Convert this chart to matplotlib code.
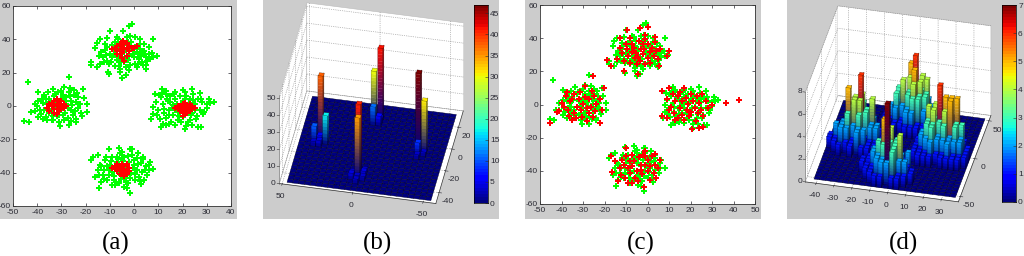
import numpy as np
import matplotlib
matplotlib.use("Agg")
import matplotlib.pyplot as plt
from matplotlib.patches import Rectangle
from mpl_toolkits.mplot3d import proj3d
from mpl_toolkits.mplot3d.art3d import Poly3DCollection

plt.rcParams['font.family'] = ['Liberation Sans', 'DejaVu Sans']
plt.rcParams['axes.unicode_minus'] = False
W, H = 1024, 256

# ---------- data ----------
green_top = [(-0.7,49),(-2,48),(-4.5,45),(-10,45),(-1.5,42),(-11,41),(-14,40),(-6.5,40.5),(8,40),(2.5,40),(-15.5,38),(-16,35),(7.5,32),(9.5,30),(8,29.5),(-18,26.5),(-18,24.5),(-15.5,23.5),(-14,25.5),(-10.7,20.5),(-10.5,19),(-5,17),(-3.5,18.5),(-6,22),(5,22.5),(5,24.5),(1.5,25.5),
 (-12,33.4),(-11.2,35.3),(-10,31.2),(-9.3,36.6),(-9,29.1),(-8.2,33.3),(-8,38.4),(-7,27.4),(-7.4,31.2),(-6,35.3),(-6.3,24.2),(-5,29.4),(-5.4,38.2),(-4,26.3),(-4.3,32.2),(-3,36.4),(-3.2,23.3),(-2,30.2),(-2.4,27.4),(-1,34.2),(-1.3,38.3),(0,29.3),(0.3,25.2),(1,32.4),(1.4,36.2),(2,28.3),(2.3,34.4),(3,30.2),(3.4,26.4),(4,33.2),(4.2,37.3),(5,29.4),(6,31.2),(-13,29.4),(-11,27.2),(-10.3,25.3),(-12,37.2),(-7.2,41.3),(-3,41.4),(0.4,41.2),(6,35.2),(-8,24.3),(-2.2,21.4),(1,23.3),(-6,20.2),
 (-11.5,30.5),(-9.5,26.5),(-8.5,31.5),(-7.5,35.5),(-6.5,29.5),(-5.5,26.5),(-4.5,33.5),(-3.5,28.5),(-2.5,38.5),(-1.5,24.5),(-0.5,31.5),(0.5,35.5),(1.5,29.5),(2.5,37.5),(3.5,24.5),(4.5,31.5),(5.5,27),(6.5,28.5),(-13.5,32.5),(-12.5,26.5),(-14.5,30),(2.5,32)]
green_left = [(-44,14.5),(-27,17.5),(-45.5,-9),(-43.5,-9.5),(-21,10),(-39.5,8.5),(-33.5,10.5),(-29,11.5),(-26.5,11),(-25,9.5),(-20.5,5),(-19.5,1),(-19.5,-3.5),(-24,-8),(-24,-9.5),(-27,-11.5),(-30.5,-12),(-37.5,-8),(-39.5,-6.5),(-42.5,-3.5),(-41,1),
 (-38,4.3),(-37,-2.2),(-37.3,6.4),(-36,1.2),(-36.2,-6.3),(-35,4.4),(-35.4,8.2),(-34,-3.3),(-33,6.2),(-33.3,-8.4),(-32,2.4),(-31,-5.2),(-31.4,8.3),(-30,4.2),(-30.3,-2.4),(-29,-8.3),(-29.2,6.4),(-28,1.3),(-28.4,-4.2),(-27,8.4),(-27.3,-7.2),(-26,3.3),(-26.2,-2.3),(-25,6.4),(-25.4,-5.3),(-24,2.2),(-23,-1.4),(-23.2,5.3),(-22,-4.2),(-39,-2.3),(-40,0.2),(-41,-3.2),(-34,-8.3),(-32,-6.2),(-28,5.3),(-35,-4.4),(-30,9.2),(-36,-8.2),(-33,-1.3),
 (-38.5,-4.5),(-37.5,2),(-36.5,4.5),(-35.5,-1.5),(-34.5,2.5),(-33.5,-6),(-32.5,7.5),(-31.5,-1),(-30.5,1.5),(-29.5,-5.5),(-28.5,3),(-27.5,-1),(-26.5,6),(-25.5,0.5),(-24.5,-3),(-23.5,8),(-22.5,1),(-21.5,-6),(-39.5,3),(-31,-9.5),(-26,-9)]
green_right = [(33,2.5),(31,4.5),(30,1.5),(27,8),(24,10.5),(20,9.5),(17,8.5),(11.7,10.5),(13,9),(8.5,7),(9.2,2.5),(8,-0.4),(7,-8),(8,-4.5),(12,-11),(11,-12.5),(14.5,-10.5),(26.5,-12.5),(27.8,-12.5),(23.7,-11.5),(21,-14),(21.3,-12),
 (11,5.3),(12,1.2),(12.4,-4.3),(13,7.4),(13.2,-7.2),(14,3.3),(14.3,-2.4),(15,6.2),(15.4,-9.3),(16,0.4),(16.2,-5.2),(17,4.3),(18,-3.4),(18.3,-8.2),(19,6.3),(19.4,1.2),(20,-6.4),(20.2,3.3),(21,8.2),(22,-1.3),(22.3,-9.4),(23,4.2),(24,-4.3),(24.4,7.2),(25,1.4),(26,-6.2),(26.3,4.3),(27,-2.4),(28,2.2),(29,-3.3),(10,-2.2),(10.3,6.4),(23,-8.2),(17,-11.3),(13,-11.2),(15,2.3),(17,-2.2),(19,-4.3),(21,4.4),(25,-2.2),
 (10.5,-7.5),(11.5,8),(12.5,-1.5),(13.5,4.5),(14.5,-5.5),(15.5,-1),(16.5,7.5),(17.5,1.5),(18.5,-6),(19.5,-9.5),(20.5,-2),(21.5,6),(22.5,2),(23.5,-5.5),(24.5,3.5),(25.5,-8),(27.5,4.5),(28.5,-5),(30,-1),(9.5,-5.5),(31.5,2)]
green_bottom = [(-18,-32.5),(-17,-30.5),(-15,-29.5),(-10.3,-25.5),(-6.2,-25),(-1.8,-26),(-1,-26),(1.6,-28),(3.5,-30.5),(6.5,-33.5),(8,-38),(6,-38.5),(2.7,-47),(-1.7,-52),(-14.5,-49),(-8,-47.5),(-4.2,-48.5),(-16,-42.5),(-13.5,-45.5),(-15,-38.5),
 (-14,-35.3),(-13,-41.2),(-12,-32.4),(-12.3,-38.2),(-11,-44.3),(-10,-35.4),(-10.4,-41.2),(-9,-30.3),(-8,-37.2),(-8.3,-44.4),(-7,-33.3),(-6,-28.2),(-6.4,-40.3),(-6.2,-46.4),(-5,-35.2),(-4,-30.3),(-4.3,-43.4),(-3,-37.2),(-2,-33.3),(-2.4,-46.2),(-1,-29.4),(-1.3,-40.2),(0,-35.3),(0.2,-44.2),(1,-31.4),(1.3,-38.2),(2,-42.3),(3,-34.2),(3.4,-39.3),(4,-44.4),(5,-36.2),(5.3,-41.3),(-9,-47.2),(-3,-49.3),(-7,-30.4),(-5,-31.2),(-3,-41.3),(0,-32.2),(-9,-39.4),(-11,-36.2),
 (-14.5,-41.5),(-13.5,-36),(-12.5,-44),(-11.5,-30.5),(-10.5,-38.5),(-9.5,-33),(-8.5,-42),(-7.5,-45.5),(-6.5,-31.5),(-5.5,-43.5),(-4.5,-33),(-3.5,-45.5),(-2.5,-30),(-1.5,-43),(-0.5,-37),(0.5,-41),(1.5,-34.5),(2.5,-45),(3.5,-32),(4.5,-38.5),(6,-35.5),(-5,-27.5)]

red_a = [(-9,34),(-8,35),(-7,33),(-7,36),(-6,34),(-6,31),(-6,37),(-5,35),(-5,29),(-5,32),(-4.5,39),(-4,27),(-4,34),(-4,37),(-3,30),(-3,35),(-2,33),(-2,36),(-1,35),(0,35),(1,36),(-3,38),(-5,37),(-7,31),
 (-36,-1),(-35,1),(-35,-3),(-34,2),(-34,0),(-33,-4),(-33,3),(-33,-2),(-32,1),(-32,-5),(-32,4),(-31,-1),(-31,2),(-31,-3),(-30,0),(-30,3),(-30,-2),(-29,1),(-29,-1),(-28,0),(-33,0),(-32,-2),
 (17,-1),(18,-2),(18,0),(19,-3),(19,0),(19,-1),(20,-6),(20,-2),(20,1),(21,-4),(21,-1),(21,2),(22,-2),(22,0),(22,-4),(23,-1),(23,1),(23,-3),(24,-2),(24,0),(25,-1),(20,-4),
 (-9,-37),(-8,-38),(-8,-36),(-7,-35),(-7,-39),(-7,-37),(-6,-36),(-6,-41),(-6,-38),(-5,-35),(-5,-40),(-5,-37),(-4,-39),(-4,-36),(-4,-42),(-3,-35),(-3,-38),(-3,-41),(-3,-40),(-2,-37),(-2,-39)]

red_c = [(36.6,1),(42.7,3),(-45.4,-11),(-25.4,17.4),(-22.3,-11),(-20.2,10),(10,32),(9,29),(0,47),(-3.5,46),(-9.5,45),(-19,27),(-17,23.5),(-11,20),(-4.3,18.5),(-13,40),(3.7,41),(5.5,23.5),(6.8,-7),(6.8,8),(10,10),(17,10),(20.7,-14.5),(23.8,-14),(26,-13.5),(30,0),
 (-10,-26.5),(-17,-31),(-16.5,-41),(-13.6,-46),(-1.7,-49.5),(6,-33.5),(3.7,-30),(-7,-47.5),
 (-12,31.3),(-11,26.4),(-10,36.2),(-9,29.3),(-9.4,33.4),(-8,40.2),(-8.3,25.3),(-7,31.4),(-7.2,36.3),(-6,28.2),(-6.4,34.3),(-5,24.4),(-5.3,31.2),(-4,38.3),(-4.2,28.4),(-3,33.2),(-3.4,26.3),(-2,36.4),(-2.3,30.2),(-1,39.3),(-1.4,33.4),(0,28.2),(0.3,36.3),(1,31.4),(1.2,25.3),(2,34.2),(3,29.3),(3.3,37.4),(4,32.3),(5,27.2),(6,33.4),(-13,34.2),(-14,27.3),(-1,42.2),(-1.2,24.3),
 (-42,-4.3),(-40,1.2),(-39,-1.4),(-38,5.3),(-37,-3.2),(-37.3,7.4),(-36,2.3),(-36.4,-7.2),(-35,3.4),(-34,-5.3),(-34.3,6.2),(-33,-1.4),(-33.2,-8.3),(-32,3.2),(-31,-3.4),(-31.4,7.3),(-30,0.2),(-30.3,-7.4),(-29,11.2),(-29.2,4.3),(-28,-2.4),(-28.3,-10.2),(-27,3.3),(-27.4,-5.2),(-26,8.4),(-26.2,-1.3),(-25,5.2),(-25.3,-7.3),(-24,0.4),(-24.4,-4.2),(-22,3.3),(-21,-3.4),(-41,-4.2),(-35,-9.3),
 (9,3.2),(10,-3.3),(11,-1.4),(12,6.3),(12.3,-5.2),(13,2.4),(14,-8.3),(14.4,5.2),(15,-2.3),(15.3,7.4),(16,-6.2),(16.2,2.3),(17,-9.4),(18,4.2),(18.4,-3.3),(19,0.4),(19.3,-7.2),(20,6.3),(20.2,-4.4),(21,2.2),(22,-2.3),(22.4,-10.2),(23,5.3),(23.3,-5.4),(24,1.2),(25,-3.3),(25.2,6.4),(26,-7.2),(27,2.3),(28,-2.4),(13,-9.3),(9,-8.2),
 (-15,-34.3),(-13,-38.2),(-12,-33.4),(-12.3,-42.3),(-11,-36.2),(-10,-31.3),(-10.4,-44.2),(-9,-38.4),(-9.3,-47.2),(-8,-34.3),(-8.2,-41.4),(-7,-30.2),(-7.4,-37.3),(-6,-44.4),(-6.3,-34.2),(-5,-40.3),(-4,-31.4),(-4.2,-46.2),(-3,-36.3),(-2,-30.4),(-2.4,-42.2),(-1,-36.4),(-1.3,-28.3),(0,-40.2),(0.3,-33.3),(1,-45.4),(1.2,-37.2),(2,-31.3),(3,-41.4),(3.4,-36.2),(4,-44.3),(5,-38.2),(-3,-39.4),(-1,-31.2)]

# panel (b): cell index along x, along y, bar height
b_cells = [(11,5,41),(11,4,35),(10,4,3),(10,3,4),(12,5,3),(12,4,4),(11,3,3),(11,2,3),(12,3,3),
           (3,13,38),(4,12,17),(2,12,10),(3,12,5),(3,11,4),(2,11,3),
           (12,21,42),(11,20,30),(11,19,11),(12,19,6),(12,20,3),
           (20,13,47),(21,13,31),(20,12,8),(21,12,3),(20,11,3)]

# panel (d): heights; first row is the back row of each patch
d_left_ij = (0, 8)
d_left = [[0,0,0,0,1,0,1,0,0,0],[0,0,1,0,2,3,1,1,0,0],[0,0,1,2,3,4,2,2,1,0],[0,1,0,3,4,6,3,4,0,0],[0,1,2,5,4,4,3,2,2,1],
          [1,2,2,3,2,3,1,2,2,0],[1,1,2,2,1,2,2,1,1,1],[0,1,0,1,1,2,0,1,1,0],[0,0,1,0,1,0,1,1,0,0]]
d_front_ij = (7, 0)
d_front = [[0,0,1,0,1,2,1,0,0,0],[0,1,1,2,3,2,1,1,0,0],[1,1,2,2,3,4,3,1,2,0],[1,0,2,3,5,3,3,2,1,0],[0,1,1,2,3,2,3,4,1,1],
           [0,1,1,2,2,7,3,2,2,1],[0,0,1,0,2,2,3,1,1,0],[0,0,0,1,1,0,1,1,0,0]]
d_back_ij = (8, 16)
d_back = [[0,0,1,1,2,2,1,1,0,0],[0,1,1,2,5,3,4,2,1,0],[0,1,3,2,4,6,3,4,1,0],[1,1,2,4,3,5,4,3,2,1],[1,2,3,2,3,4,3,3,2,0],
          [1,1,2,1,2,3,3,2,1,1],[0,1,1,1,2,2,1,1,1,0],[0,1,1,0,1,1,1,0,0,0]]
d_right_ij = (15, 8)
d_right = [[0,0,1,1,1,2,1,0,0,0],[0,1,1,2,3,2,2,1,0,0],[0,1,2,4,2,3,2,2,1,0],[1,1,4,3,6,5,5,5,1,0],[0,2,3,4,3,4,5,3,3,1],
           [1,2,3,3,2,3,2,3,2,1],[1,1,2,3,2,2,1,2,2,1],[1,1,1,2,1,1,2,1,1,1],[0,1,1,1,0,1,1,1,1,0]]

labels = ["(a)", "(b)", "(c)", "(d)"]
label_x = [116, 378, 641, 903]
TXT = '#2a2a33'


def px_rect(x0, y0, x1, y1):
    return [x0 / W, 1 - y1 / H, (x1 - x0) / W, (y1 - y0) / H]


fig = plt.figure(figsize=(W / 100, H / 100), dpi=100, facecolor='white')
for x0, x1 in [(0, 237), (263, 499), (525, 761), (787, 1024)]:
    fig.add_artist(Rectangle((x0 / W, 1 - 219 / H), (x1 - x0) / W, 219 / H,
                             transform=fig.transFigure, fc='#cccccc', ec='none', zorder=-5))
for s, x in zip(labels, label_x):
    fig.text(x / W, 1 - 243 / H, s, family='Liberation Serif', fontsize=18,
             ha='center', va='center', color='black')


def scatter_panel(rect, xlim, xticks, layers):
    ax = fig.add_axes(px_rect(*rect))
    for pts, col in layers:
        a = np.array(pts)
        ax.scatter(a[:, 0], a[:, 1], marker='P', s=16, c=col, linewidths=0, clip_on=True)
    ax.set_xlim(*xlim)
    ax.set_ylim(-60, 60)
    ax.set_xticks(xticks)
    ax.set_yticks(range(-60, 61, 20))
    ax.tick_params(direction='in', top=True, right=True, length=2, width=.5,
                   labelsize=6, labelcolor=TXT, color=TXT)
    ax.tick_params(axis='x', pad=2.5)
    ax.tick_params(axis='y', pad=1.5)
    for s in ax.spines.values():
        s.set_linewidth(.6)
        s.set_color('#333333')
    return ax


greens = green_top + green_left + green_right + green_bottom
scatter_panel((13, 6, 231, 206), (-50, 40), range(-50, 41, 10), [(greens, '#00ff00'), (red_a, '#ff0000')])
scatter_panel((540, 5, 755, 204), (-50, 50), range(-50, 51, 10), [(greens, '#00ff00'), (red_c, '#ff0000')])


def colorbar(rect, vmax, ticks):
    ax = fig.add_axes(px_rect(*rect))
    ax.imshow(np.linspace(0, 1, 64)[:, None], cmap='jet', origin='lower', aspect='auto',
              extent=[0, 1, 0, vmax])
    ax.set_xticks([])
    ax.yaxis.tick_right()
    ax.set_yticks(ticks)
    ax.tick_params(direction='in', length=2, width=.4, labelsize=6, pad=1.5, labelcolor=TXT, color=TXT)
    for s in ax.spines.values():
        s.set_linewidth(.5)


colorbar((474, 5, 488, 203), 47, range(0, 46, 5))
colorbar((1002, 5, 1016, 202), 7, range(0, 8))


def project(ax, p):
    x, y, _ = proj3d.proj_transform(p[0], p[1], p[2], ax.get_proj())
    return ax.transData.transform((x, y))


def setup3d(elev, azim, aspect, xlim, ylim, zlim, xticks, yticks, zticks, t_a, t_b):
    ax = fig.add_axes(px_rect(t_a[0] - 40, 0, t_a[0] + 216, 256), projection='3d', computed_zorder=False)
    ax.set_proj_type('ortho')
    ax.view_init(elev=elev, azim=azim)
    ax.set_xlim(*xlim, view_margin=0)
    ax.set_ylim(*ylim, view_margin=0)
    ax.set_zlim(*zlim, view_margin=0)
    ax.set_facecolor('none')
    ax.set_xticks(xticks)
    ax.set_yticks(yticks)
    ax.set_zticks(zticks)
    ax.zaxis.set_tick_params(labelleft=False, labelright=False, label1On=False, label2On=False)
    ax.tick_params(labelsize=6, pad=-3, labelcolor=TXT, color=TXT)
    for a in (ax.xaxis, ax.yaxis, ax.zaxis):
        a.set_pane_color((1, 1, 1, 1))
        a.pane.set_edgecolor('#bbbbbb')
        a.pane.set_linewidth(.4)
        a.line.set_color('#333333')
        a.line.set_linewidth(.5)
        a._axinfo['grid'].update(color='#888888', linewidth=.5, linestyle=':')
        a._axinfo['tick'].update(linewidth={True: .4, False: .4})
    ax.zaxis.line.set_linewidth(0)
    ax.zaxis._axinfo['tick'].update(inward_factor=0, outward_factor=0)
    # the z scale stands on the front left edge of the box
    x0, y0 = xlim[0], ylim[0]
    dx = (xlim[1] - xlim[0]) * .014
    ax.plot([x0, x0], [y0, y0], zlim, color='#777777', lw=.5, zorder=-1)
    for z in zticks:
        ax.plot([x0, x0 - dx], [y0, y0], [z, z], color='#333333', lw=.4, clip_on=False)
    # fit the box on two of its corners
    A = (xlim[0], ylim[0], zlim[0])
    B = (xlim[1], ylim[1], zlim[0])
    ta = np.array([t_a[0], H - t_a[1]], float)
    tb = np.array([t_b[0], H - t_b[1]], float)
    zoom = 1.0
    for _ in range(4):
        ax.set_box_aspect(aspect, zoom=zoom)
        ax.apply_aspect()
        pa, pb = project(ax, A), project(ax, B)
        zoom *= np.linalg.norm(tb - ta) / np.linalg.norm(pb - pa)
        ax.set_box_aspect(aspect, zoom=zoom)
        pa, pb = project(ax, A), project(ax, B)
        d = ((ta - pa) + (tb - pb)) / 2
        p = ax.get_position(original=True)
        ax.set_position([p.x0 + d[0] / W, p.y0 + d[1] / H, p.width, p.height])
        ax.apply_aspect()
    # z tick labels, placed where the fitted box puts each tick
    for z in zticks:
        px, py = project(ax, (x0 - 1.6 * dx, y0, z))
        fig.text(px / W, py / H, str(z), fontsize=6, color=TXT, ha='right', va='center')
    return ax


def floor_and_bars(ax, xe, ye, grid, vmax, dz, w):
    cmap = plt.get_cmap('jet')
    base = np.array(cmap(0.0))
    cells = [[(xe[i], ye[j], 0), (xe[i + 1], ye[j], 0), (xe[i + 1], ye[j + 1], 0), (xe[i], ye[j + 1], 0)]
             for i in range(25) for j in range(25)]
    ax.add_collection3d(Poly3DCollection(cells, facecolors=[cmap(0.0)], edgecolors=[(0, 0, .15, 1)],
                                         linewidths=.3, zorder=0), autolim=False)
    M = ax.get_proj()

    def depth(x, y, z):
        return proj3d.proj_transform(x, y, z, M)[2]

    idx = [(i, j) for i in range(25) for j in range(25) if grid[i, j] > 0]
    idx.sort(key=lambda c: -depth((xe[c[0]] + xe[c[0] + 1]) / 2, (ye[c[1]] + ye[c[1] + 1]) / 2, 0))
    for rank, (i, j) in enumerate(idx):
        h = grid[i, j]
        topcol = np.array(cmap(min(h / vmax, 1.0)))
        xa, xb = xe[i] + w * (xe[i + 1] - xe[i]), xe[i + 1] - w * (xe[i + 1] - xe[i])
        ya, yb = ye[j] + w * (ye[j + 1] - ye[j]), ye[j + 1] - w * (ye[j + 1] - ye[j])
        c = [(xa, ya), (xb, ya), (xb, yb), (xa, yb)]
        sides = [(c[k], c[(k + 1) % 4]) for k in range(4)]
        sides.sort(key=lambda s: depth((s[0][0] + s[1][0]) / 2, (s[0][1] + s[1][1]) / 2, 0))
        polys, cols, outlines = [], [], []
        zs = np.arange(0, h, dz)
        for n, (p, q) in enumerate(sides[:2]):
            shade = 1.0 if n == 0 else .8
            for z0 in zs:
                z1 = min(z0 + dz, h)
                polys.append([(*p, z0), (*q, z0), (*q, z1), (*p, z1)])
                t = ((z0 + z1) / 2) / h          # sides blend from the floor colour up to the top colour
                col = (1 - t) * base + t * topcol
                col[:3] *= shade
                cols.append(col)
            outlines.append([(*p, 0), (*q, 0), (*q, h), (*p, h)])
        ax.add_collection3d(Poly3DCollection(polys, facecolors=cols, edgecolors=cols, linewidths=.15,
                                             zorder=1 + 2 * rank), autolim=False)
        top = [(*k, h) for k in c]
        ax.add_collection3d(Poly3DCollection(outlines, facecolors=[(0, 0, 0, 0)],
                                             edgecolors=[(0, 0, 0, .45)], linewidths=.3, zorder=2 + 2 * rank),
                            autolim=False)
        ax.add_collection3d(Poly3DCollection([top], facecolors=[topcol],
                                             edgecolors=[(0, 0, 0, .5)], linewidths=.3, zorder=2 + 2 * rank),
                            autolim=False)


# panel (b)
ax_b = setup3d(41, -79, (479, 432, 351), (52, -59), (-50, 35), (0, 52),
               [50, 0, -50], [-40, -20, 0, 20], range(0, 51, 10),
               (279.3, 183.5), (463.3, 111))
grid_b = np.zeros((25, 25))
for i, j, v in b_cells:
    grid_b[i, j] = v
floor_and_bars(ax_b, np.linspace(47, -55, 26), np.linspace(-48, 31, 26), grid_b, 47, 2.0, .06)

# panel (d)
ax_d = setup3d(36, -77.5, (469, 450, 332), (-46, 39.5), (-57, 57), (0, 8),
               range(-40, 31, 10), [-50, 0, 50], range(0, 9, 2),
               (805.3, 181.7), (991, 115.7))
grid_d = np.zeros((25, 25))
for patch, (i0, j0) in [(d_left, d_left_ij), (d_front, d_front_ij), (d_back, d_back_ij), (d_right, d_right_ij)]:
    arr = np.array(patch)
    rows = arr.shape[0]
    for r in range(rows):
        for c in range(arr.shape[1]):
            i, j = i0 + c, j0 + rows - 1 - r
            if i < 25 and j < 25:
                grid_d[i, j] = max(grid_d[i, j], arr[r, c])
floor_and_bars(ax_d, np.linspace(-42, 37, 26), np.linspace(-52, 52, 26), grid_d, 7, .25, .1)

fig.savefig('out.png', dpi=100)
